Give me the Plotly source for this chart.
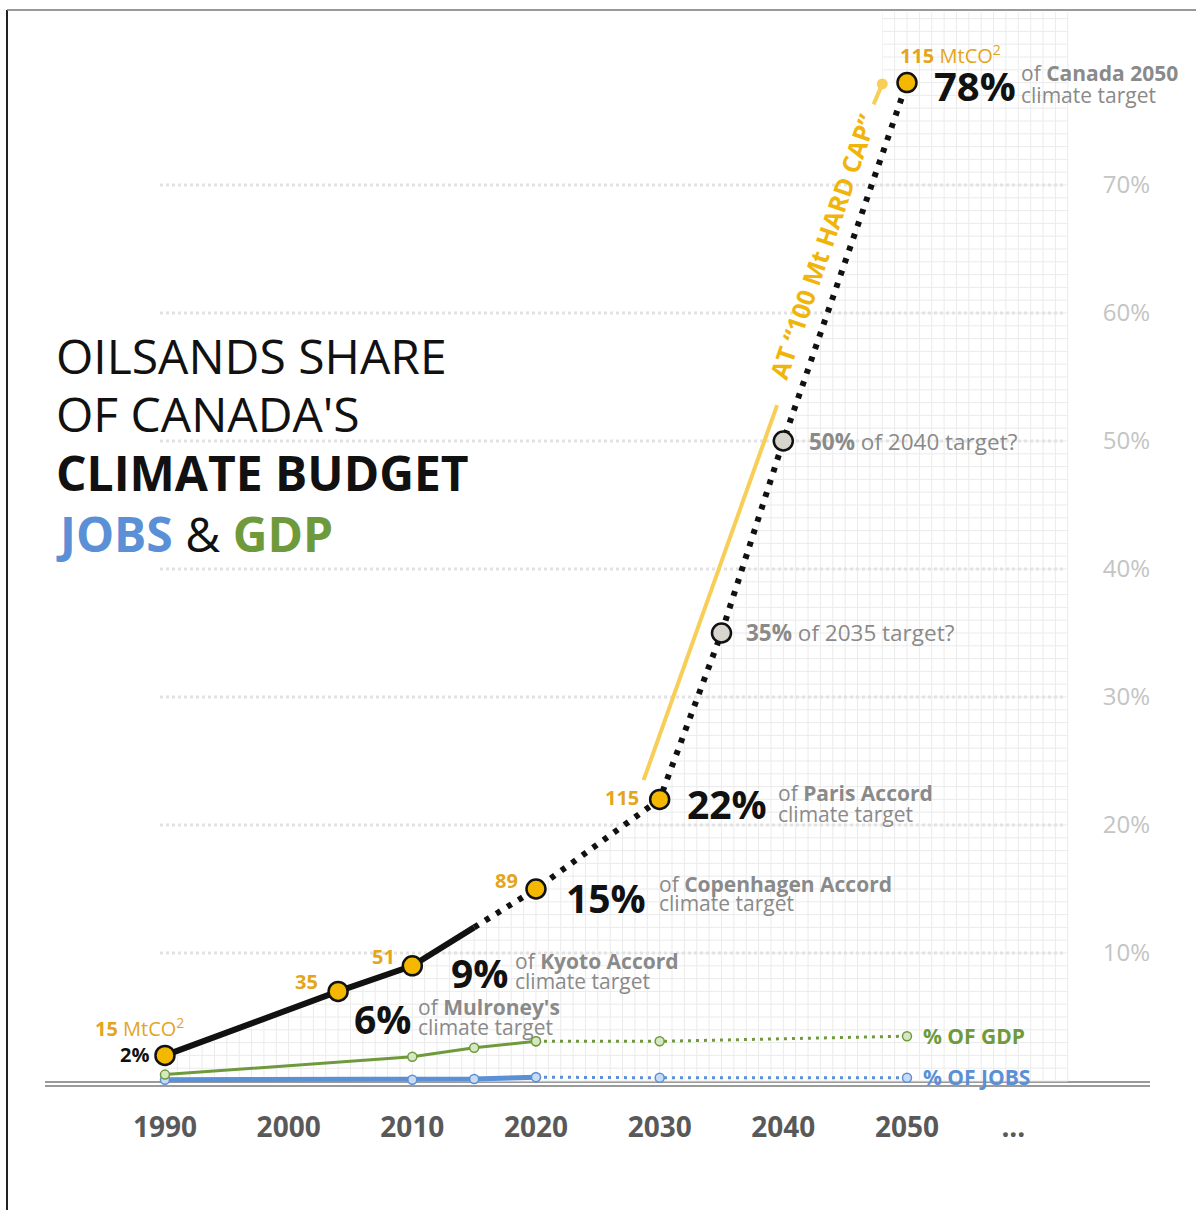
import numpy as np
import plotly.graph_objects as go

# ---------------- data ----------------
# Oilsands share of Canada's climate budget (%)
years_actual = [1990, 2004, 2010, 2015]
share_actual = [2, 7, 9, 12]
years_proj = [2015, 2020, 2030, 2035, 2040, 2050]
share_proj = [12, 15, 22, 35, 50, 78]

# milestone markers
target_years = [1990, 2004, 2010, 2020, 2030, 2050]
target_share = [2, 7, 9, 15, 22, 78]
emissions_mt = ["15", "35", "51", "89", "115", "115"]
question_years = [2035, 2040]
question_share = [35, 50]

# "100 Mt hard cap" path
cap_years = [2028.7, 2039.5, None, 2047.3, 2048.0]
cap_share = [23.5, 52.8, None, 76.3, 77.9]

# GDP and jobs shares (%)
econ_years = [1990, 2010, 2015, 2020]
gdp_share = [0.5, 1.9, 2.6, 3.1]
jobs_share = [0.1, 0.1, 0.15, 0.3]
econ_proj_years = [2020, 2030, 2050]
gdp_proj = [3.1, 3.1, 3.5]
jobs_proj = [0.3, 0.25, 0.25]

x_ticks = [1990, 2000, 2010, 2020, 2030, 2040, 2050, 2058.6]
x_ticktext = ["1990", "2000", "2010", "2020", "2030", "2040", "2050", "..."]
y_ticks = [10, 20, 30, 40, 50, 60, 70]
y_ticktext = [f"{v}%" for v in y_ticks]

# ---------------- styling ----------------
FONT = "Open Sans"
GOLD = "#F5B800"
GOLD_TXT = "#E3A51C"
CAP_YELLOW = "#F7CE58"
CAP_TXT = "#F0B50A"
GREY_TXT = "#8a8a8a"
GDP_GREEN = "#6E9A3C"
JOBS_BLUE = "#5B8FD6"

X_RANGE = [1976.66, 2064.96]
Y_RANGE = [-1.484, 84.453]
GRID_X_END = 2063
GRID_TOP = 83.5

fig = go.Figure()

# fine background grid (1 year x 1 %)
gx, gy = [], []
for yr in range(1990, GRID_X_END + 1):
    gx += [yr, yr, None]
    gy += [0, GRID_TOP, None]
for p in range(0, int(GRID_TOP) + 1):
    gx += [1990, GRID_X_END, None]
    gy += [p, p, None]
fig.add_trace(go.Scatter(x=gx, y=gy, mode="lines",
                         line=dict(color="#ebebeb", width=1),
                         hoverinfo="skip"))

# white area above the share curve hides the grid there
curve_x = years_actual + years_proj[1:]
curve_y = share_actual + share_proj[1:]
mask_x = [X_RANGE[0], 1990] + curve_x + [2048, 2048, X_RANGE[0]]
mask_y = [0, 0] + curve_y + [curve_y[-1], Y_RANGE[1], Y_RANGE[1]]
fig.add_trace(go.Scatter(x=mask_x, y=mask_y, mode="lines", fill="toself",
                         fillcolor="white", line=dict(width=0, color="white"),
                         hoverinfo="skip"))

# dotted major gridlines
mx, my = [], []
for p in y_ticks:
    mx += [1989.6, 2062.8, None]
    my += [p, p, None]
fig.add_trace(go.Scatter(x=mx, y=my, mode="lines",
                         line=dict(color="#e2e2e2", width=3, dash="3px,3px"),
                         hoverinfo="skip"))

# jobs
fig.add_trace(go.Scatter(x=econ_proj_years, y=jobs_proj, mode="lines+markers",
                         line=dict(color=JOBS_BLUE, width=3, dash="3px,5px"),
                         marker=dict(size=9, color="#C9DBF2",
                                     line=dict(color=JOBS_BLUE, width=1.5))))
fig.add_trace(go.Scatter(x=econ_years, y=jobs_share, mode="lines+markers",
                         line=dict(color=JOBS_BLUE, width=5),
                         marker=dict(size=9, color="#C9DBF2",
                                     line=dict(color=JOBS_BLUE, width=1.5))))
# GDP
fig.add_trace(go.Scatter(x=econ_proj_years, y=gdp_proj, mode="lines+markers",
                         line=dict(color=GDP_GREEN, width=3, dash="3px,5px"),
                         marker=dict(size=9, color="#D6E8C2",
                                     line=dict(color=GDP_GREEN, width=1.5))))
fig.add_trace(go.Scatter(x=econ_years, y=gdp_share, mode="lines+markers",
                         line=dict(color=GDP_GREEN, width=3),
                         marker=dict(size=9, color="#D6E8C2",
                                     line=dict(color=GDP_GREEN, width=1.5))))

# hard cap path
fig.add_trace(go.Scatter(x=cap_years, y=cap_share, mode="lines",
                         line=dict(color=CAP_YELLOW, width=4),
                         connectgaps=False, hoverinfo="skip"))
fig.add_trace(go.Scatter(x=cap_years[-1:], y=cap_share[-1:], mode="markers",
                         marker=dict(size=11, color=CAP_YELLOW),
                         hoverinfo="skip"))

# oilsands share: recorded (solid) and projected (dotted)
fig.add_trace(go.Scatter(x=years_proj, y=share_proj, mode="lines",
                         line=dict(color="#111111", width=6, dash="5px,8px")))
fig.add_trace(go.Scatter(x=years_actual, y=share_actual, mode="lines",
                         line=dict(color="#111111", width=6)))
fig.add_trace(go.Scatter(x=question_years, y=question_share, mode="markers",
                         marker=dict(size=19, color="#D8D5CF",
                                     line=dict(color="#111111", width=2.5))))
fig.add_trace(go.Scatter(x=target_years, y=target_share, mode="markers",
                         marker=dict(size=19, color=GOLD,
                                     line=dict(color="#111111", width=2.5))))

# ---------------- annotations ----------------
ann = []


def label(x, y, text, size, color, dx, dy, anchor="left", angle=0):
    ann.append(dict(x=x, y=y, xref="x", yref="y", text=text, showarrow=False,
                    xanchor=anchor, yanchor="middle", xshift=dx, yshift=dy,
                    textangle=angle, borderpad=0,
                    font=dict(family=FONT, size=size, color=color)))


# emissions (Mt CO2) next to each milestone
label(1990, 2, f"<b>{emissions_mt[0]}</b> MtCO<sup>2</sup>", 20, GOLD_TXT, 20, 28, "right")
label(2004, 7, f"<b>{emissions_mt[1]}</b>", 20, GOLD_TXT, -19, 10, "right")
label(2010, 9, f"<b>{emissions_mt[2]}</b>", 20, GOLD_TXT, -16, 9, "right")
label(2020, 15, f"<b>{emissions_mt[3]}</b>", 20, GOLD_TXT, -17, 9, "right")
label(2030, 22, f"<b>{emissions_mt[4]}</b>", 20, GOLD_TXT, -20, 2, "right")
label(2050, 78, f"<b>{emissions_mt[5]}</b> MtCO<sup>2</sup>", 20, GOLD_TXT, -8, 28, "left")

label(1990, 2, "<b>2%</b>", 20, "#111111", -15, 1, "right")


def target(x, y, pct, size, name, dx_pct, dy_pct, dx_txt, dy1, dy2):
    label(x, y, f"<b>{pct}</b>", size, "#111111", dx_pct, dy_pct)
    label(x, y, f"of <b>{name}</b>", 21, GREY_TXT, dx_txt, dy1)
    label(x, y, "climate target", 21, GREY_TXT, dx_txt, dy2)


target(2004, 7, "6%", 39, "Mulroney's", 15, -27, 79, -16, -36)
target(2010, 9, "9%", 39, "Kyoto Accord", 38, -7, 102, 5, -15)
target(2020, 15, "15%", 39, "Copenhagen Accord", 29, -8, 122, 5, -14)
target(2030, 22, "22%", 39, "Paris Accord", 26, -4, 117, 6, -15)
target(2050, 78, "78%", 40, "Canada 2050", 26, -3, 113, 10, -12)

label(2035, 35, "<b>35%</b> of 2035 target?", 22.5, GREY_TXT, 24, 1)
label(2040, 50, "<b>50%</b> of 2040 target?", 22.5, GREY_TXT, 25, 0)

label(2043.2, 65.2, "<b>AT “100 Mt HARD CAP”</b>", 25, CAP_TXT, 0, 0, "center", -71)

label(2050, 3.5, "<b>% OF GDP</b>", 21, GDP_GREEN, 15, 0)
label(2050, 0.25, "<b>% OF JOBS</b>", 21, JOBS_BLUE, 15, 1)

# title block
title_lines = [
    ("OILSANDS SHARE", 355),
    ("OF CANADA'S", 413),
    ("<b>CLIMATE BUDGET</b>", 473),
    (f"<b><span style='color:{JOBS_BLUE}'>JOBS</span></b> &amp; "
     f"<b><span style='color:{GDP_GREEN}'>GDP</span></b>", 533),
]
PLOT_W, PLOT_H = 1092, 1100
for txt, ypx in title_lines:
    ann.append(dict(x=55 / PLOT_W, y=1 - ypx / PLOT_H, xref="paper", yref="paper",
                    text=txt, showarrow=False, xanchor="left", yanchor="middle",
                    borderpad=0,
                    font=dict(family=FONT, size=48, color="#111111")))

# ---------------- frame & baseline ----------------
shapes = [
    dict(type="line", xref="paper", yref="paper", x0=7 / PLOT_W, x1=7 / PLOT_W,
         y0=1 - 10 / PLOT_H, y1=1 - 1215 / PLOT_H, line=dict(color="#222222", width=2)),
    dict(type="line", xref="paper", yref="paper", x0=7 / PLOT_W, x1=1200 / PLOT_W,
         y0=1 - 10 / PLOT_H, y1=1 - 10 / PLOT_H, line=dict(color="#777777", width=1.5)),
    dict(type="line", xref="paper", yref="paper", x0=45 / PLOT_W, x1=1150 / PLOT_W,
         y0=1 - 1082 / PLOT_H, y1=1 - 1082 / PLOT_H, layer="below",
         line=dict(color="#9a9a9a", width=2)),
    dict(type="line", xref="paper", yref="paper", x0=45 / PLOT_W, x1=1150 / PLOT_W,
         y0=1 - 1086 / PLOT_H, y1=1 - 1086 / PLOT_H, layer="below",
         line=dict(color="#9a9a9a", width=2)),
]

fig.update_layout(
    width=1196, height=1210,
    margin=dict(l=0, r=1196 - PLOT_W, t=0, b=1210 - PLOT_H, pad=0),
    paper_bgcolor="white", plot_bgcolor="white",
    showlegend=False, hovermode=False,
    font=dict(family=FONT),
    annotations=ann, shapes=shapes,
    xaxis=dict(range=X_RANGE, showgrid=False, zeroline=False, showline=False,
               tickmode="array", tickvals=x_ticks, ticktext=x_ticktext,
               ticks="outside", ticklen=2, tickcolor="rgba(0,0,0,0)",
               tickfont=dict(family=FONT, size=28, color="#595959", weight="bold")),
    yaxis=dict(range=Y_RANGE, side="right", showgrid=False, zeroline=False,
               showline=False, tickmode="array", tickvals=y_ticks,
               ticktext=y_ticktext, ticks="outside", ticklen=5,
               tickcolor="rgba(0,0,0,0)",
               tickfont=dict(family=FONT, size=24, color="#c4c4c4")),
)

fig.write_html("out.html")
